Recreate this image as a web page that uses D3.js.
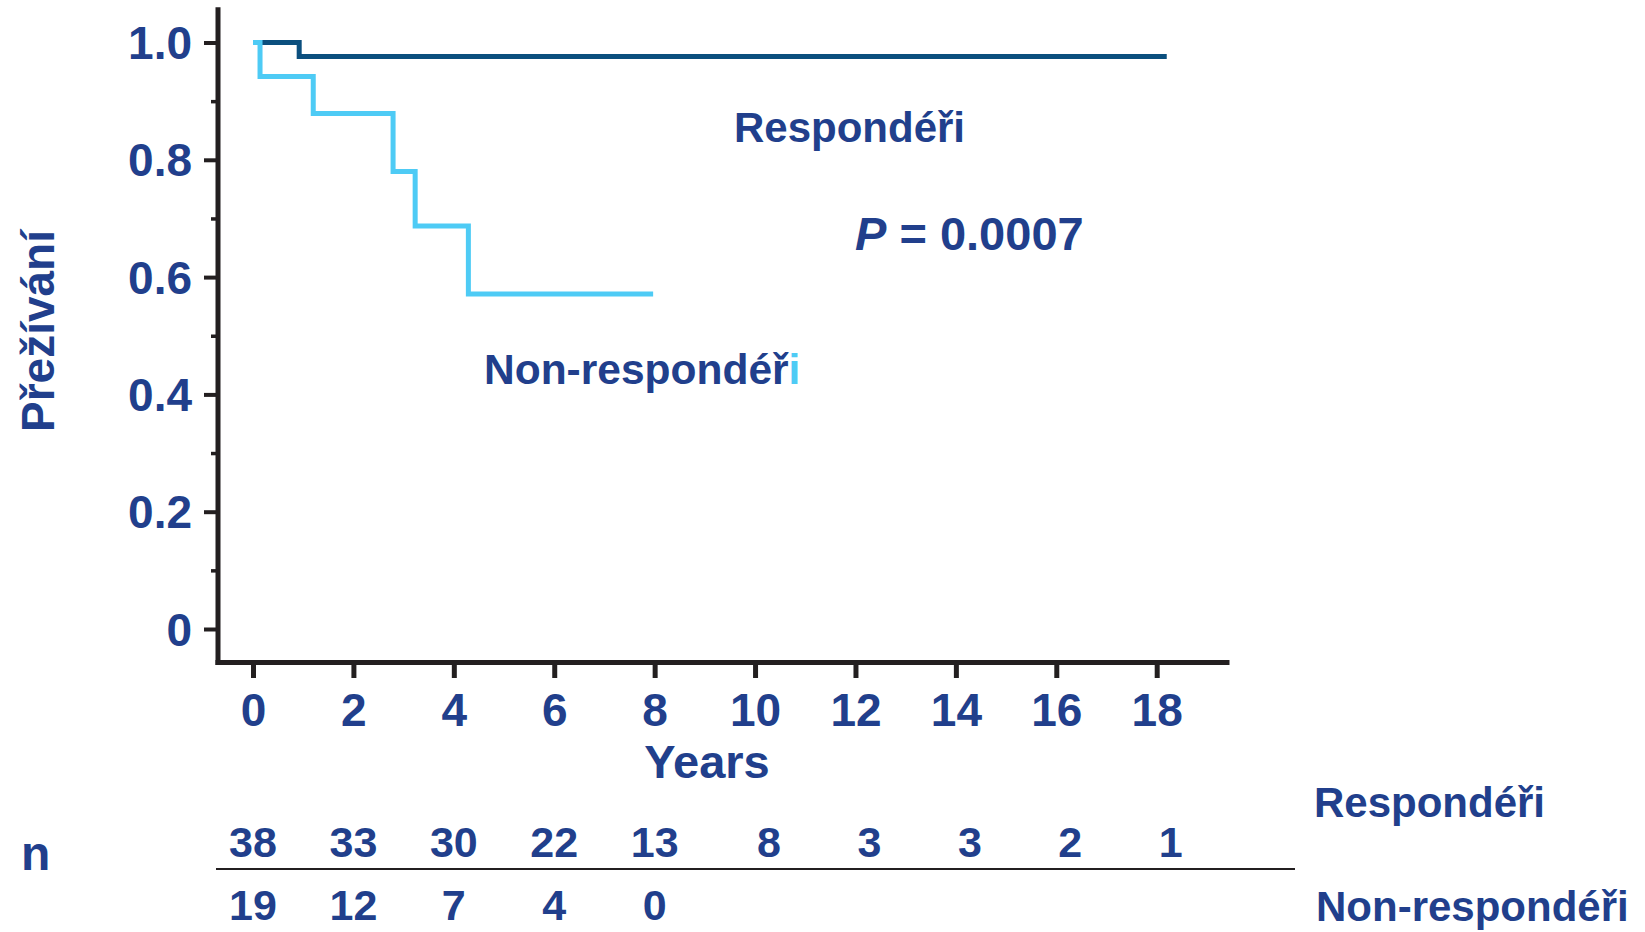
<!DOCTYPE html>
<html>
<head>
<meta charset="utf-8">
<script src="https://cdn.jsdelivr.net/npm/d3@7"></script>
<style>
  body { margin: 0; background: #fff; }
  text { font-family: "Liberation Sans", Arial, sans-serif; font-weight: bold; fill: #213f8c; }
</style>
</head>
<body>
<div id="chart"></div>
<script>
// survival curves (years, survival)
var respTimes = [0, 0.92, 18.2];
var respSurv = [1.0, 0.976, 0.976];
var nonTimes = [0, 0.14, 1.2, 2.79, 3.23, 4.29, 7.97];
var nonSurv = [1.0, 0.942, 0.879, 0.78, 0.687, 0.571, 0.571];

// axis ticks
var xTicks = [0, 2, 4, 6, 8, 10, 12, 14, 16, 18];
var yTicks = [0, 0.2, 0.4, 0.6, 0.8, 1.0];
var yMinorTicks = [0.1, 0.3, 0.5, 0.7, 0.9];
var yTickLabels = ['0', '0.2', '0.4', '0.6', '0.8', '1.0'];

// numbers at risk
var riskTimes = [0, 2, 4, 6, 8, 10, 12, 14, 16, 18];
var riskResp = [38, 33, 30, 22, 13, 8, 3, 3, 2, 1];
var riskNon = [19, 12, 7, 4, 0];

var width = 1645, height = 932;
var navy = '#213f8c', dark = '#0b4f7e', light = '#4ecbf5', axisCol = '#231f20';

var svg = d3.select('#chart').append('svg')
    .attr('width', width)
    .attr('height', height);

var x = d3.scaleLinear().domain([0, 18]).range([253, 1156.7]);
var y = d3.scaleLinear().domain([0, 1]).range([629, 42.5]);
var axisX = 218, axisY = 662.5;

// y axis: major + minor ticks
var yAxis = svg.append('g').attr('transform', 'translate(' + axisX + ',0)');
yAxis.call(d3.axisLeft(y).tickValues(yTicks).tickSize(14).tickPadding(12)
    .tickFormat(function(d, i) { return yTickLabels[i]; }));
yAxis.select('.domain').remove();
yAxis.selectAll('.tick line').attr('stroke', axisCol).attr('stroke-width', 4);
yAxis.selectAll('.tick text')
    .attr('fill', navy).attr('dy', '0.35em')
    .style('font-size', '46px');

var yMinor = svg.append('g').attr('transform', 'translate(' + axisX + ',0)');
yMinor.call(d3.axisLeft(y).tickValues(yMinorTicks).tickSize(7).tickFormat(''));
yMinor.select('.domain').remove();
yMinor.selectAll('.tick line').attr('stroke', axisCol).attr('stroke-width', 3.5);

// x axis
var xAxis = svg.append('g').attr('transform', 'translate(0,' + axisY + ')');
xAxis.call(d3.axisBottom(x).tickValues(xTicks).tickSize(15.5));
xAxis.select('.domain').remove();
xAxis.selectAll('.tick line').attr('stroke', axisCol).attr('stroke-width', 5);
xAxis.selectAll('.tick text')
    .attr('fill', navy).attr('y', 63.5).attr('dy', 0)
    .style('font-size', '46px');

// axis lines
svg.append('line')
    .attr('x1', axisX).attr('x2', axisX)
    .attr('y1', y(1.06)).attr('y2', axisY + 2.5)
    .attr('stroke', axisCol).attr('stroke-width', 5);
svg.append('line')
    .attr('x1', axisX - 2.5).attr('x2', x(19.45))
    .attr('y1', axisY).attr('y2', axisY)
    .attr('stroke', axisCol).attr('stroke-width', 5);

// curves
var line = d3.line()
    .x(function(d) { return x(d[0]); })
    .y(function(d) { return y(d[1]); })
    .curve(d3.curveStepAfter);

svg.append('path')
    .datum(d3.zip(respTimes, respSurv))
    .attr('d', line)
    .attr('fill', 'none').attr('stroke', dark).attr('stroke-width', 5);

svg.append('path')
    .datum(d3.zip(nonTimes, nonSurv))
    .attr('d', line)
    .attr('fill', 'none').attr('stroke', light).attr('stroke-width', 5);

// labels inside plot
svg.append('text').attr('x', 734).attr('y', 142)
    .style('font-size', '42px').text('Respondéři');

var p = svg.append('text').attr('x', 855).attr('y', 250).style('font-size', '47px');
p.append('tspan').style('font-style', 'italic').text('P');
p.append('tspan').text(' = 0.0007');

var nr = svg.append('text').attr('x', 484).attr('y', 384).style('font-size', '42.5px');
nr.append('tspan').text('Non-respondéř');
nr.append('tspan').attr('fill', light).text('i');

// axis titles
svg.append('text')
    .attr('transform', 'translate(54,331) rotate(-90)')
    .attr('text-anchor', 'middle')
    .style('font-size', '46px')
    .text('Přežívání');

svg.append('text').attr('x', 707).attr('y', 778)
    .attr('text-anchor', 'middle').style('font-size', '47px')
    .text('Years');

// numbers at risk
svg.append('text').attr('x', 21).attr('y', 870)
    .style('font-size', '48px').text('n');

svg.selectAll('.riskResp')
    .data(riskResp)
    .enter().append('text')
    .attr('class', 'riskResp')
    .attr('x', function(d, i) { return x(riskTimes[i]) + (d < 10 ? 14 : 0); })
    .attr('y', 857)
    .attr('text-anchor', 'middle')
    .style('font-size', '43px')
    .text(function(d) { return d; });

svg.selectAll('.riskNon')
    .data(riskNon)
    .enter().append('text')
    .attr('class', 'riskNon')
    .attr('x', function(d, i) { return x(riskTimes[i]); })
    .attr('y', 920)
    .attr('text-anchor', 'middle')
    .style('font-size', '43px')
    .text(function(d) { return d; });

svg.append('line')
    .attr('x1', 216).attr('x2', 1295)
    .attr('y1', 869).attr('y2', 869)
    .attr('stroke', axisCol).attr('stroke-width', 2);

svg.append('text').attr('x', 1314).attr('y', 817)
    .style('font-size', '42px').text('Respondéři');
svg.append('text').attr('x', 1316).attr('y', 921)
    .style('font-size', '42px').text('Non-respondéři');
</script>
</body>
</html>
